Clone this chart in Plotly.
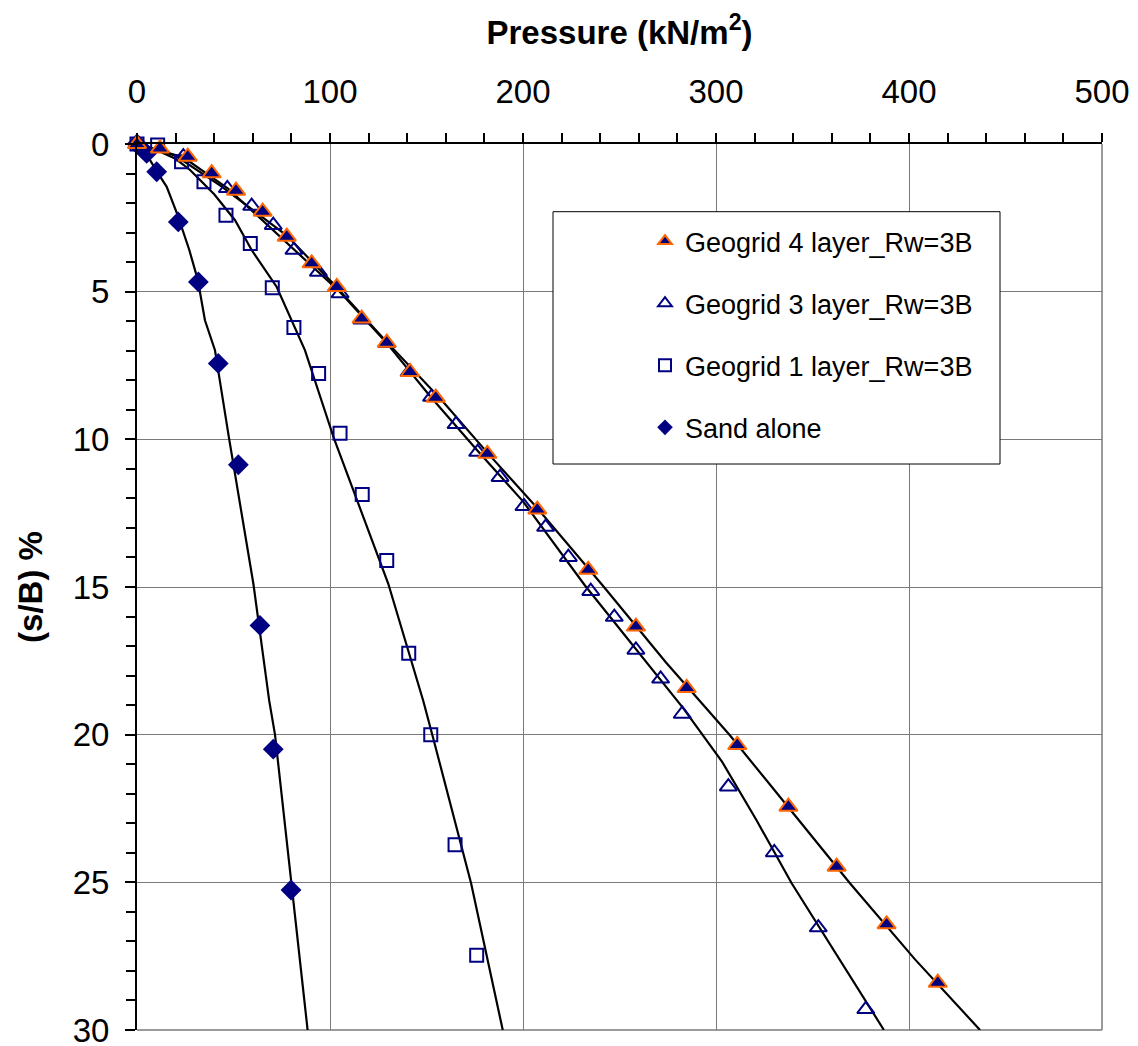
import plotly.graph_objects as go

# ---------------- data ----------------
g4_p = [0, 11.9, 26.3, 38.7, 51.3, 65.1, 77.6, 90.5, 103.5, 116.4, 129.4, 141.5,
        154.8, 181.5, 207.4, 233.8, 258.5, 284.8, 311.0, 337.5, 362.5, 388.4, 414.9]
g4_s = [0, 0.15, 0.43, 0.99, 1.58, 2.29, 3.14, 4.04, 4.84, 5.91, 6.73, 7.72,
        8.59, 10.49, 12.38, 14.42, 16.34, 18.42, 20.35, 22.44, 24.47, 26.42, 28.4]

g3_p = [0, 24.0, 46.8, 59.4, 70.6, 81.3, 94.0, 105.2, 116.5, 129.5, 141.0, 152.6,
        165.3, 176.5, 188.1, 200.5, 211.7, 223.5, 235.1, 247.3, 258.5, 271.3,
        282.5, 306.4, 330.2, 353.0, 377.6]
g3_s = [0, 0.43, 1.5, 2.1, 2.75, 3.59, 4.33, 5.06, 5.95, 6.75, 7.72, 8.57,
        9.49, 10.43, 11.28, 12.27, 12.97, 13.99, 15.14, 16.02, 17.13, 18.11,
        19.3, 21.76, 23.99, 26.53, 29.3]

g1_p = [0, 10.7, 23.1, 34.7, 46.1, 58.7, 70.1, 81.3, 94.1, 105.2, 116.7, 129.4,
        140.8, 152.2, 164.8, 176.0]
g1_s = [0, 0.03, 0.6, 1.28, 2.41, 3.37, 4.87, 6.21, 7.77, 9.79, 11.87, 14.1,
        17.24, 20.0, 23.73, 27.47]

sand_p = [0, 5.0, 10.2, 21.4, 31.8, 42.1, 52.5, 63.7, 70.6, 79.8]
sand_s = [0, 0.32, 0.94, 2.64, 4.67, 7.43, 10.86, 16.3, 20.49, 25.26]

# trend lines (black)
g4_line_p = [0, 20, 43, 77.6, 102, 129.4, 157.9, 181.5, 207, 241.3, 274, 307.3,
             338, 369.4, 403, 436.8]
g4_line_s = [0, 0.4, 1.4, 3.1, 4.75, 6.7, 8.68, 10.45, 12.3, 14.95, 17.55, 20.03,
             22.5, 25.03, 27.6, 30.0]
g3_line_p = [0, 24, 47, 81, 105, 129.5, 152, 176, 200, 232.1, 264, 283, 303, 321,
             339.2, 363, 387]
g3_line_s = [0, 0.45, 1.5, 3.55, 5.0, 6.75, 8.55, 10.35, 12.1, 14.95, 17.55, 19.1,
             20.9, 22.9, 25.03, 27.5, 30.0]
g1_line_p = [0, 10, 20, 27.5, 40, 50.8, 59.4, 72.4, 87.0, 102.1, 130.2, 148.3,
             153.0, 173.1, 189.5]
g1_line_s = [0, 0.2, 0.5, 0.88, 1.7, 2.58, 3.59, 4.84, 6.98, 9.98, 14.89, 18.85,
             20.0, 25.03, 30.0]
sand_line_p = [0, 5, 10, 15.4, 21, 27.1, 31.5, 35.2, 40.4, 47.7, 60.3, 68.5, 71.5,
               79.8, 88.4]
sand_line_s = [0, 0.35, 0.9, 1.45, 2.4, 3.59, 4.6, 5.97, 6.98, 9.97, 14.89, 18.85,
               20.0, 25.0, 30.0]

names = ["Geogrid 4 layer_Rw=3B", "Geogrid 3 layer_Rw=3B",
         "Geogrid 1 layer_Rw=3B", "Sand alone"]

x_ticks = [0, 100, 200, 300, 400, 500]
y_ticks = [0, 5, 10, 15, 20, 25, 30]

FONT = "Liberation Sans, Arial, sans-serif"
NAVY = "#000080"
ORANGE = "#FF6600"

fig = go.Figure()

# trend lines
for lp, ls in [(g4_line_p, g4_line_s), (g3_line_p, g3_line_s),
               (g1_line_p, g1_line_s), (sand_line_p, sand_line_s)]:
    fig.add_trace(go.Scatter(x=lp, y=ls, mode="lines", showlegend=False,
                             line=dict(color="black", width=2.2), hoverinfo="skip"))

# markers
fig.add_trace(go.Scatter(x=g1_p, y=g1_s, mode="markers", name=names[2],
                         legendgroup="c", legendrank=3, cliponaxis=False,
                         marker=dict(symbol="square-open", size=13, color=NAVY,
                                     line=dict(width=2, color=NAVY))))
fig.add_trace(go.Scatter(x=sand_p, y=sand_s, mode="markers", name=names[3],
                         legendgroup="d", legendrank=4, cliponaxis=False,
                         marker=dict(symbol="diamond", size=16, color=NAVY)))
fig.add_trace(go.Scatter(x=g3_p, y=g3_s, mode="markers", name=names[1],
                         legendgroup="b", legendrank=2, cliponaxis=False,
                         marker=dict(symbol="triangle-up-open", size=15, color=NAVY,
                                     line=dict(width=2, color=NAVY))))
fig.add_trace(go.Scatter(x=g4_p, y=g4_s, mode="markers", name=names[0],
                         legendgroup="a", legendrank=1, cliponaxis=False,
                         marker=dict(symbol="triangle-up", size=16, color=NAVY,
                                     line=dict(width=2, color=ORANGE))))

W, H = 1138, 1046
L, R, T, B = 137, 36, 144, 16
pw, ph = W - L - R, H - T - B


def px2x(px):
    return (px - L) / pw


def px2y(py):
    return 1 - (py - T) / ph


fig.update_layout(
    width=W, height=H,
    margin=dict(l=L, r=R, t=T, b=B, autoexpand=False),
    paper_bgcolor="white", plot_bgcolor="white",
    font=dict(family=FONT, color="black", size=30),
    showlegend=True,
    legend=dict(x=px2x(645), y=px2y(217), xanchor="left", yanchor="top",
                bgcolor="rgba(0,0,0,0)", borderwidth=0,
                font=dict(size=27, family=FONT, color="black"),
                traceorder="grouped", tracegroupgap=24,
                itemsizing="constant"),
    xaxis=dict(
        side="top", range=[0, 500], tickvals=x_ticks, automargin=False,
        ticktext=[str(v) for v in x_ticks],
        showgrid=True, gridcolor="#7a7a7a", gridwidth=1,
        zeroline=False, showline=True, linecolor="black", linewidth=2,
        ticks="outside", ticklen=9, tickcolor="black", tickwidth=2,
        tickfont=dict(size=33, family=FONT), ticklabelstandoff=17,
        ticklabeloverflow="allow",
        minor=dict(dtick=20, tick0=0, ticks="outside", ticklen=9,
                   tickcolor="black", tickwidth=2, showgrid=False),
        title=dict(text="<b>Pressure (kN/m<sup>2</sup>)</b>",
                   font=dict(size=33, family=FONT), standoff=18),
    ),
    yaxis=dict(
        range=[30, 0], tickvals=y_ticks, ticktext=[str(v) for v in y_ticks],
        automargin=False,
        showgrid=True, gridcolor="#7a7a7a", gridwidth=1,
        zeroline=False, showline=True, linecolor="black", linewidth=2,
        ticks="outside", ticklen=10, tickcolor="black", tickwidth=2,
        tickfont=dict(size=33, family=FONT), ticklabelstandoff=9,
        ticklabeloverflow="allow",
        minor=dict(dtick=1, tick0=0, ticks="outside", ticklen=9,
                   tickcolor="black", tickwidth=2, showgrid=False),
        title=dict(text="<b>(s/B) %</b>", font=dict(size=33, family=FONT),
                   standoff=20),
    ),
    shapes=[
        # legend frame
        dict(type="rect", xref="paper", yref="paper",
             x0=px2x(553), x1=px2x(1000), y0=px2y(464), y1=px2y(211.7),
             fillcolor="white", line=dict(color="black", width=1), layer="above"),
        # right and bottom frame lines of the plot area
        dict(type="line", xref="paper", yref="paper", x0=1, x1=1, y0=0, y1=1,
             line=dict(color="#7a7a7a", width=1.5), layer="below"),
        dict(type="line", xref="paper", yref="paper", x0=0, x1=1, y0=0, y1=0,
             line=dict(color="#7a7a7a", width=1.5), layer="below"),
    ],
)

fig.write_html("out.html")
